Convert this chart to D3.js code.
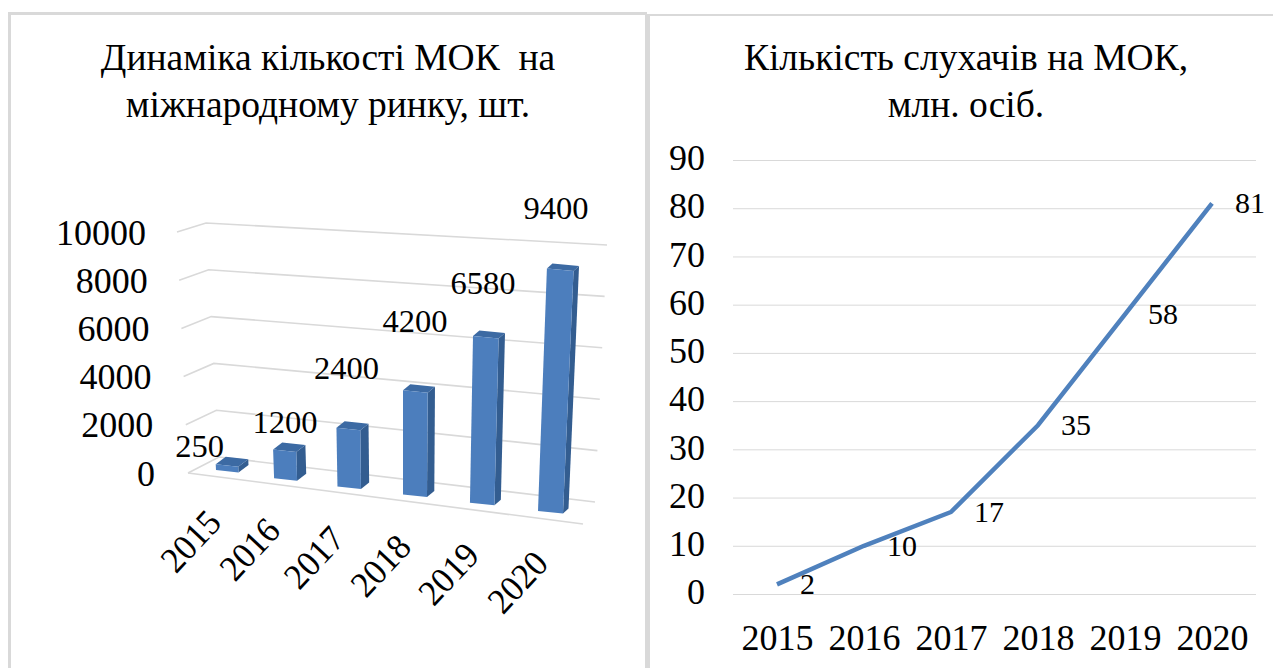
<!DOCTYPE html>
<html>
<head>
<meta charset="utf-8">
<script src="https://cdn.jsdelivr.net/npm/d3@7"></script>
<style>
    html, body { margin: 0; padding: 0; background: #fff; }
    svg { display: block; }
    text { font-family: "Liberation Serif", serif; fill: #000; white-space: pre; }
</style>
</head>
<body>
<svg id="chart" width="1273" height="668"></svg>
<script>
// Data
const years = ["2015", "2016", "2017", "2018", "2019", "2020"];
const courses = [250, 1200, 2400, 4200, 6580, 9400];
const listeners = [2, 10, 17, 35, 58, 81];
const courseTicks = [0, 2000, 4000, 6000, 8000, 10000];
const listenerTicks = [0, 10, 20, 30, 40, 50, 60, 70, 80, 90];

const svg = d3.select("#chart");

// Panel borders
const borderColor = "#d9d9d9";
svg.append("path")
    .attr("d", "M9.5,668V13.5H647")
    .attr("fill", "none")
    .attr("stroke", borderColor)
    .attr("stroke-width", 3);
svg.append("path")
    .attr("d", "M647.5,668V15")
    .attr("fill", "none")
    .attr("stroke", borderColor)
    .attr("stroke-width", 5);
svg.append("path")
    .attr("d", "M645,15H1273")
    .attr("fill", "none")
    .attr("stroke", borderColor)
    .attr("stroke-width", 2);

function title(lines, cx) {
    svg.selectAll(null)
        .data(lines)
        .enter()
        .append("text")
        .attr("x", cx)
        .attr("y", function(d, i) { return 70 + i * 47; })
        .attr("text-anchor", "middle")
        .attr("font-size", 37.5)
        .text(function(d) { return d; });
}
title(["Динаміка кількості МОК  на", "міжнародному ринку, шт."], 328);
title(["Кількість слухачів на МОК,", "млн. осіб."], 966);

// ---- Left chart: 3D columns ----
const valueDomain = [0, 10000];
const frontX = d3.scaleLinear().domain(valueDomain).range([188, 177]);
const frontY = d3.scaleLinear().domain(valueDomain).range([473, 232]);
const backX = d3.scaleLinear().domain(valueDomain).range([219, 206]);
const backY = d3.scaleLinear().domain(valueDomain).range([457, 223]);
const rightX = d3.scaleLinear().domain(valueDomain).range([595, 607]);
const rightY = d3.scaleLinear().domain(valueDomain).range([502, 245]);
const labelX = d3.scaleLinear().domain(valueDomain).range([155, 146]);
const labelY = d3.scaleLinear().domain(valueDomain).range([473, 232]);

// Walls and gridlines
const wall = svg.append("g")
    .attr("fill", "none")
    .attr("stroke", "#d9d9d9")
    .attr("stroke-width", 1.6);
wall.selectAll("path")
    .data(courseTicks)
    .enter()
    .append("path")
    .attr("d", function(d) {
        return d3.line()([
            [frontX(d), frontY(d)],
            [backX(d), backY(d)],
            [rightX(d), rightY(d)]
        ]);
    });
wall.append("path")
    .attr("d", d3.line()([[frontX(0), frontY(0)], [583, 524]]));

svg.selectAll(".course-tick")
    .data(courseTicks)
    .enter()
    .append("text")
    .attr("class", "course-tick")
    .attr("x", labelX)
    .attr("y", labelY)
    .attr("dy", "0.35em")
    .attr("text-anchor", "end")
    .attr("font-size", 36)
    .text(function(d) { return d; });

// Perspective: columns get wider and lean outwards towards the right
const index = d3.scaleLinear().domain([0, years.length - 1]).range([0, 1]);
const barX = d3.scalePow().exponent(1.064).domain([0, 1]).range([216, 538]);
const barWidth = d3.scaleLinear().domain([0, 1]).range([22.5, 25]);
const barBase = d3.scaleLinear().domain([0, 1]).range([470, 511]);
const barScale = d3.scaleLinear().domain([0, 1]).range([0.91, 1]);
const barHeight = d3.scaleLinear().domain(valueDomain).range([0, 258]);
const depthX = d3.scaleLinear().domain([0, 1]).range([10, 5.5]);
const depthY = d3.scaleLinear().domain([0, 1]).range([7.5, 5]);
const vanishX = 402;
const lean = 0.00027;
const tilt = 2.5;

function corners(v, i) {
    const t = index(i);
    const x = barX(t), w = barWidth(t), y = barBase(t);
    const h = barHeight(v) * barScale(t);
    const shift = function(px) { return px + (px - vanishX) * h * lean; };
    return {
        bl: [x, y],
        br: [x + w, y + tilt],
        tl: [shift(x), y - h],
        tr: [shift(x + w), y - h + tilt]
    };
}
function back(p, i) {
    const t = index(i);
    return [p[0] + depthX(t), p[1] - depthY(t)];
}

const bars = svg.selectAll(".bar")
    .data(courses)
    .enter()
    .append("g")
    .attr("class", "bar");
bars.append("path")
    .attr("fill", "#335d90")
    .attr("d", function(d, i) {
        const c = corners(d, i);
        return d3.line()([c.br, c.tr, back(c.tr, i), back(c.br, i)]) + "Z";
    });
bars.append("path")
    .attr("fill", "#3c6aa3")
    .attr("d", function(d, i) {
        const c = corners(d, i);
        return d3.line()([c.tl, c.tr, back(c.tr, i), back(c.tl, i)]) + "Z";
    });
bars.append("path")
    .attr("fill", "#4c7ebd")
    .attr("d", function(d, i) {
        const c = corners(d, i);
        return d3.line()([c.bl, c.br, c.tr, c.tl]) + "Z";
    });

// Labels sit at irregular places around the columns in the original
const labelShift = [-16, 12, 10, 12, 10, 9];
const labelRise = [18, 27, 60, 69, 53, 60];
svg.selectAll(".course-label")
    .data(courses)
    .enter()
    .append("text")
    .attr("class", "course-label")
    .attr("x", function(d, i) { return corners(d, i).tl[0] + labelShift[i]; })
    .attr("y", function(d, i) { return corners(d, i).tl[1] - labelRise[i]; })
    .attr("dy", "0.33em")
    .attr("text-anchor", "middle")
    .attr("font-size", 32.5)
    .text(function(d) { return d; });

svg.selectAll(".course-year")
    .data(years)
    .enter()
    .append("text")
    .attr("class", "course-year")
    .attr("text-anchor", "end")
    .attr("font-size", 36)
    .attr("transform", function(d, i) {
        const t = index(i);
        return "translate(" + (barX(t) + 7 + 5 * t) + "," + (barBase(t) + 54) + ") rotate(-47) scale(0.96,1)";
    })
    .text(function(d) { return d; });

// ---- Right chart: line ----
const x = d3.scalePoint().domain(years).range([777, 1212]);
const y = d3.scaleLinear().domain([0, 90]).range([594, 160]);

svg.append("g")
    .attr("stroke", "#d9d9d9")
    .attr("stroke-width", 1)
    .selectAll("line")
    .data(listenerTicks)
    .enter()
    .append("line")
    .attr("x1", 733)
    .attr("x2", 1256)
    .attr("y1", function(d) { return y(d) + 0.5; })
    .attr("y2", function(d) { return y(d) + 0.5; });

const yAxis = svg.append("g")
    .attr("transform", "translate(705,0)")
    .call(d3.axisLeft(y).tickValues(listenerTicks).tickSize(0).tickPadding(0));
yAxis.select(".domain").remove();
yAxis.selectAll("text")
    .attr("dy", "0.27em")
    .attr("font-size", 36);

const xAxis = svg.append("g")
    .attr("transform", "translate(0,624)")
    .call(d3.axisBottom(x).tickSize(0).tickPadding(0));
xAxis.select(".domain").remove();
xAxis.selectAll("text")
    .attr("font-size", 36);

svg.append("path")
    .datum(listeners)
    .attr("fill", "none")
    .attr("stroke", "#4f81bd")
    .attr("stroke-width", 4.5)
    .attr("stroke-linejoin", "round")
    .attr("d", d3.line()
        .x(function(d, i) { return x(years[i]); })
        .y(function(d) { return y(d); }));

svg.selectAll(".listener-label")
    .data(listeners)
    .enter()
    .append("text")
    .attr("class", "listener-label")
    .attr("x", function(d, i) { return x(years[i]) + 23; })
    .attr("y", function(d) { return y(d); })
    .attr("dy", "0.33em")
    .attr("font-size", 30)
    .text(function(d) { return d; });
</script>
</body>
</html>
